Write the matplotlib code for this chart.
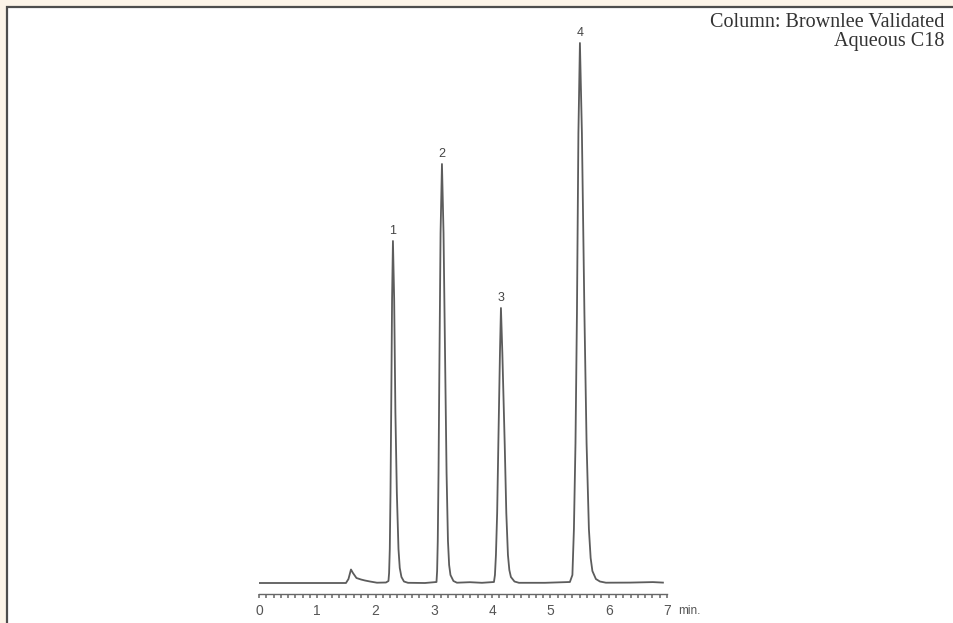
import matplotlib.pyplot as plt
from matplotlib.patches import Rectangle
from matplotlib.ticker import MultipleLocator

# trace: time (min) and signal (arbitrary units, baseline = 0)
time = [0.000, 0.703, 1.492, 1.535, 1.578, 1.612, 1.672, 1.750, 1.818, 1.904,
        2.024, 2.178,
        2.221, 2.232, 2.244, 2.256, 2.268, 2.283, 2.298, 2.319, 2.340, 2.365, 2.393,
        2.415, 2.444, 2.487, 2.556,
        2.847,
        3.045, 3.056, 3.067, 3.080, 3.094, 3.115, 3.139, 3.166, 3.196, 3.218, 3.242,
        3.262, 3.285, 3.336, 3.396,
        3.619, 3.825,
        4.031, 4.048, 4.065, 4.086, 4.106, 4.134, 4.151, 4.175, 4.216, 4.243, 4.271,
        4.295, 4.322, 4.383, 4.460,
        4.906,
        5.334, 5.377, 5.403, 5.430, 5.455, 5.480, 5.506, 5.540, 5.583, 5.620, 5.660,
        5.690, 5.720, 5.780, 5.849, 5.952,
        6.364, 6.758, 6.930]
signal = [0, 0, 0, 4, 13.5, 10, 5, 3.5, 2.5, 1.5,
          0.3, 0.5,
          2, 10, 34, 90, 171, 284, 342, 284, 171, 90, 34,
          15, 6, 1.5, 0.2,
          0,
          1, 12, 42, 110, 210, 350, 419, 350, 210, 110, 42,
          18, 8, 2, 0.3,
          0.8, 0.2,
          1, 8, 28, 70, 138, 230, 275, 230, 138, 70, 28,
          13, 6, 1.5, 0.2,
          0.2,
          1, 8, 54, 140, 270, 450, 540, 450, 270, 140, 54,
          25, 12, 4, 1.5, 0.3,
          0.4, 0.9, 0.4]

# peak labels
peak_names = ['1', '2', '3', '4']
peak_times = [2.298, 3.139, 4.151, 5.506]
peak_heights = [342, 419, 275, 540]

tick_labels = ['0', '1', '2', '3', '4', '5', '6', '7']

fig = plt.figure(figsize=(9.54, 6.23), dpi=100)
fig.patch.set_facecolor('#fcf4e8')
fig.patches.append(Rectangle((7 / 954, -0.05), 2, (623 - 7) / 623 + 0.05,
                             transform=fig.transFigure, facecolor='white',
                             edgecolor='#4d4d4d', linewidth=1.6, zorder=-5))

ax = fig.add_axes([259 / 954, 29 / 623, 408 / 954, 574 / 623])
ax.set_facecolor('none')
ax.plot(time, signal, color='#5c5c5c', linewidth=1.3, solid_joinstyle='round')

for name, t, h in zip(peak_names, peak_times, peak_heights):
    ax.annotate(name, xy=(t, h), xytext=(0, 3), textcoords='offset points',
                ha='center', va='bottom', fontsize=9, color='#444444',
                family='Liberation Sans')

ax.set_xlim(0, 7)
ax.set_ylim(-11, 563)
for side in ['top', 'right', 'left']:
    ax.spines[side].set_visible(False)
ax.spines['bottom'].set_color('#666666')
ax.spines['bottom'].set_linewidth(1.0)
ax.set_yticks([])
ax.set_xticks(range(8))
ax.set_xticklabels(tick_labels)
ax.xaxis.set_minor_locator(MultipleLocator(0.125))
ax.tick_params(axis='x', which='both', direction='out', length=2.8, width=1.1,
               color='#666666', labelsize=10, labelcolor='#555555', pad=4.5)
for lab in ax.get_xticklabels():
    lab.set_family('Liberation Sans')

ax.annotate('min.', xy=(7, 0), xycoords=('data', 'axes fraction'),
            xytext=(8, -12.5), textcoords='offset points', ha='left', va='center',
            fontsize=8.5, color='#555555', family='Liberation Sans')

fig.text(944 / 954, 1 - 27 / 623, 'Column: Brownlee Validated', ha='right',
         va='baseline', fontsize=14.5, color='#333333', family='Liberation Serif')
fig.text(944 / 954, 1 - 46 / 623, 'Aqueous C18', ha='right',
         va='baseline', fontsize=14.5, color='#333333', family='Liberation Serif')

fig.savefig('out.png', dpi=100, facecolor=fig.get_facecolor())
